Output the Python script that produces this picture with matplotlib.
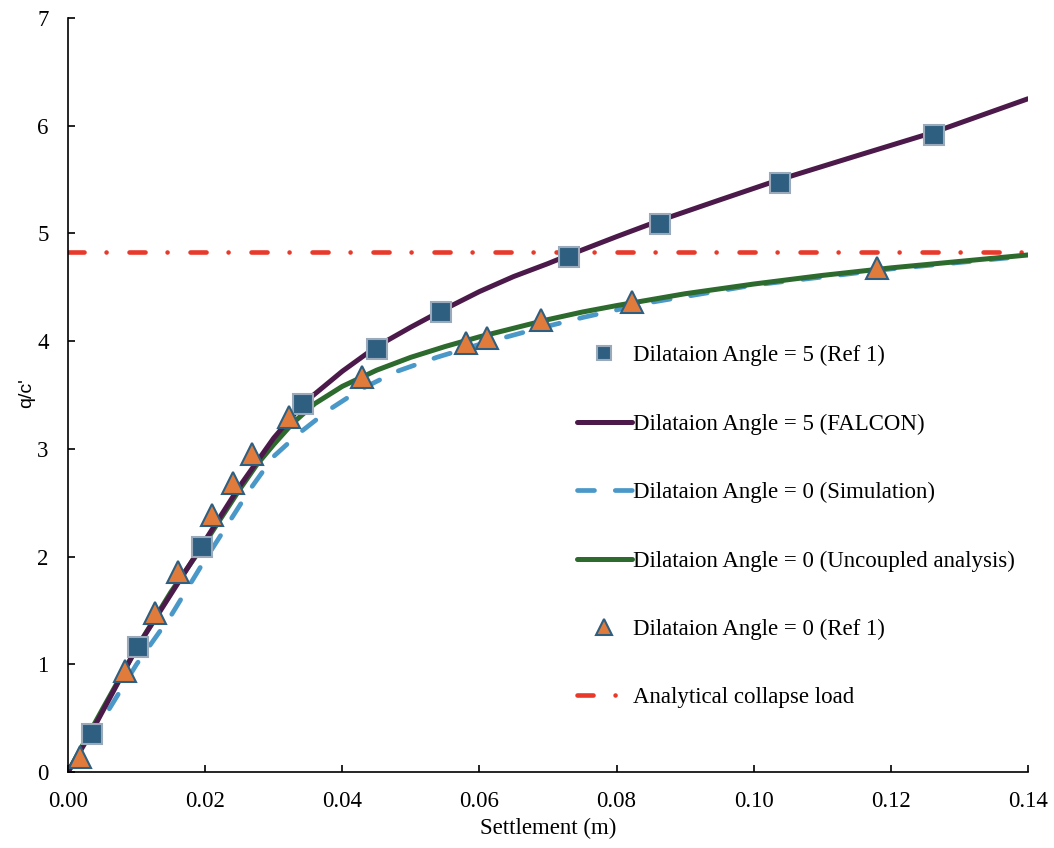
import matplotlib
matplotlib.use("Agg")
import matplotlib.pyplot as plt

# Ref 1, dilatation angle = 5 (squares)
ref5_x = [0.0035, 0.0102, 0.0195, 0.0343, 0.0450, 0.0544, 0.0730, 0.0863, 0.1038, 0.1263]
ref5_y = [0.35, 1.16, 2.09, 3.42, 3.93, 4.27, 4.78, 5.09, 5.47, 5.91]

# Ref 1, dilatation angle = 0 (triangles)
ref0_x = [0.00175, 0.0083, 0.0127, 0.0161, 0.0210, 0.0240, 0.0268, 0.0322, 0.0429,
          0.0580, 0.0611, 0.0690, 0.0823, 0.1180]
ref0_y = [0.14, 0.94, 1.48, 1.86, 2.39, 2.68, 2.95, 3.30, 3.67, 3.98, 4.03, 4.20, 4.36, 4.68]

# FALCON, dilatation angle = 5
falcon_x = [0.0, 0.0035, 0.010, 0.015, 0.0195, 0.025, 0.030, 0.0343, 0.040, 0.045,
            0.050, 0.0544, 0.060, 0.065, 0.070, 0.0731, 0.080, 0.0863, 0.095, 0.1038,
            0.115, 0.1263, 0.140]
falcon_y = [0.0, 0.38, 1.15, 1.65, 2.10, 2.65, 3.10, 3.42, 3.72, 3.95,
            4.13, 4.28, 4.46, 4.60, 4.72, 4.80, 4.97, 5.12, 5.31, 5.50,
            5.72, 5.94, 6.25]

# Simulation, dilatation angle = 0
sim_x = [0.0, 0.005, 0.010, 0.015, 0.0193, 0.0265, 0.030, 0.0338, 0.038, 0.0426,
         0.048, 0.0538, 0.060, 0.0675, 0.0751, 0.085, 0.100, 0.120, 0.140]
sim_y = [0.0, 0.48, 1.00, 1.45, 1.90, 2.62, 2.93, 3.15, 3.36, 3.55,
         3.72, 3.85, 3.97, 4.10, 4.22, 4.36, 4.52, 4.67, 4.79]

# Uncoupled analysis, dilatation angle = 0
unc_x = [0.0, 0.005, 0.010, 0.015, 0.020, 0.025, 0.0275, 0.030, 0.0328, 0.036, 0.040,
         0.045, 0.050, 0.055, 0.060, 0.065, 0.070, 0.075, 0.080, 0.090, 0.100, 0.110,
         0.120, 0.130, 0.140]
unc_y = [0.0, 0.58, 1.15, 1.67, 2.13, 2.62, 2.85, 3.04, 3.24, 3.42, 3.58,
         3.73, 3.85, 3.95, 4.04, 4.12, 4.20, 4.27, 4.33, 4.44, 4.53, 4.61,
         4.68, 4.74, 4.80]

collapse_load = 4.83

plt.rcParams['font.family'] = ['Liberation Serif', 'DejaVu Serif']
plt.rcParams['font.size'] = 16.5

fig = plt.figure(figsize=(10.54, 8.48), dpi=100)
ax = fig.add_axes([0.0645, 0.0896, 0.9108, 0.8892])

red, = ax.plot([0, 0.14], [collapse_load, collapse_load], color='#e8392a', lw=3.3,
               dashes=(3.5, 4.8, 0.01, 5.0), dash_capstyle='round',
               label='Analytical collapse load')
sim, = ax.plot(sim_x, sim_y, color='#4a98c8', lw=3.4, dashes=(3.6, 4.4),
               dash_capstyle='round', label='Dilataion Angle = 0 (Simulation)')
unc, = ax.plot(unc_x, unc_y, color='#2d6a2d', lw=3.6, solid_capstyle='round',
               label='Dilataion Angle = 0 (Uncoupled analysis)')
fal, = ax.plot(falcon_x, falcon_y, color='#4b1a4a', lw=3.6, solid_capstyle='round',
               label='Dilataion Angle = 5 (FALCON)')
sq, = ax.plot(ref5_x, ref5_y, ls='none', marker='s', ms=14, mfc='#2f5f80',
              mec='#9aaabb', mew=1.5, label='Dilataion Angle = 5 (Ref 1)')
tri, = ax.plot(ref0_x, ref0_y, ls='none', marker='^', ms=16, mfc='#e07b3c',
               mec='#2f5f80', mew=1.5, label='Dilataion Angle = 0 (Ref 1)')

ax.set_xlim(0, 0.14)
ax.set_ylim(0, 7)
ax.set_xticks([0, 0.02, 0.04, 0.06, 0.08, 0.10, 0.12, 0.14])
ax.set_xticklabels(['0.00', '0.02', '0.04', '0.06', '0.08', '0.10', '0.12', '0.14'])
ax.set_yticks(range(0, 8))
ax.tick_params(direction='in', length=5, width=1.2, labelsize=16.5, pad=14)
ax.spines['top'].set_visible(False)
ax.spines['right'].set_visible(False)
for s in ['left', 'bottom']:
    ax.spines[s].set_linewidth(1.2)

ax.set_xlabel('Settlement (m)', fontsize=16.5)
ax.xaxis.set_label_coords(0.5, -0.061)
ax.set_ylabel("q/c'", fontsize=14, family=['Liberation Sans', 'DejaVu Sans'])
ax.yaxis.set_label_coords(-0.034, 0.503)

ax.legend(handles=[sq, fal, sim, unc, tri, red], loc='upper left',
          bbox_to_anchor=(0.530, 0.566), frameon=False, borderaxespad=0,
          borderpad=0, handlelength=2.4, handletextpad=0.05, labelspacing=2.06,
          markerscale=0.7)

fig.savefig('out.png', dpi=100)
